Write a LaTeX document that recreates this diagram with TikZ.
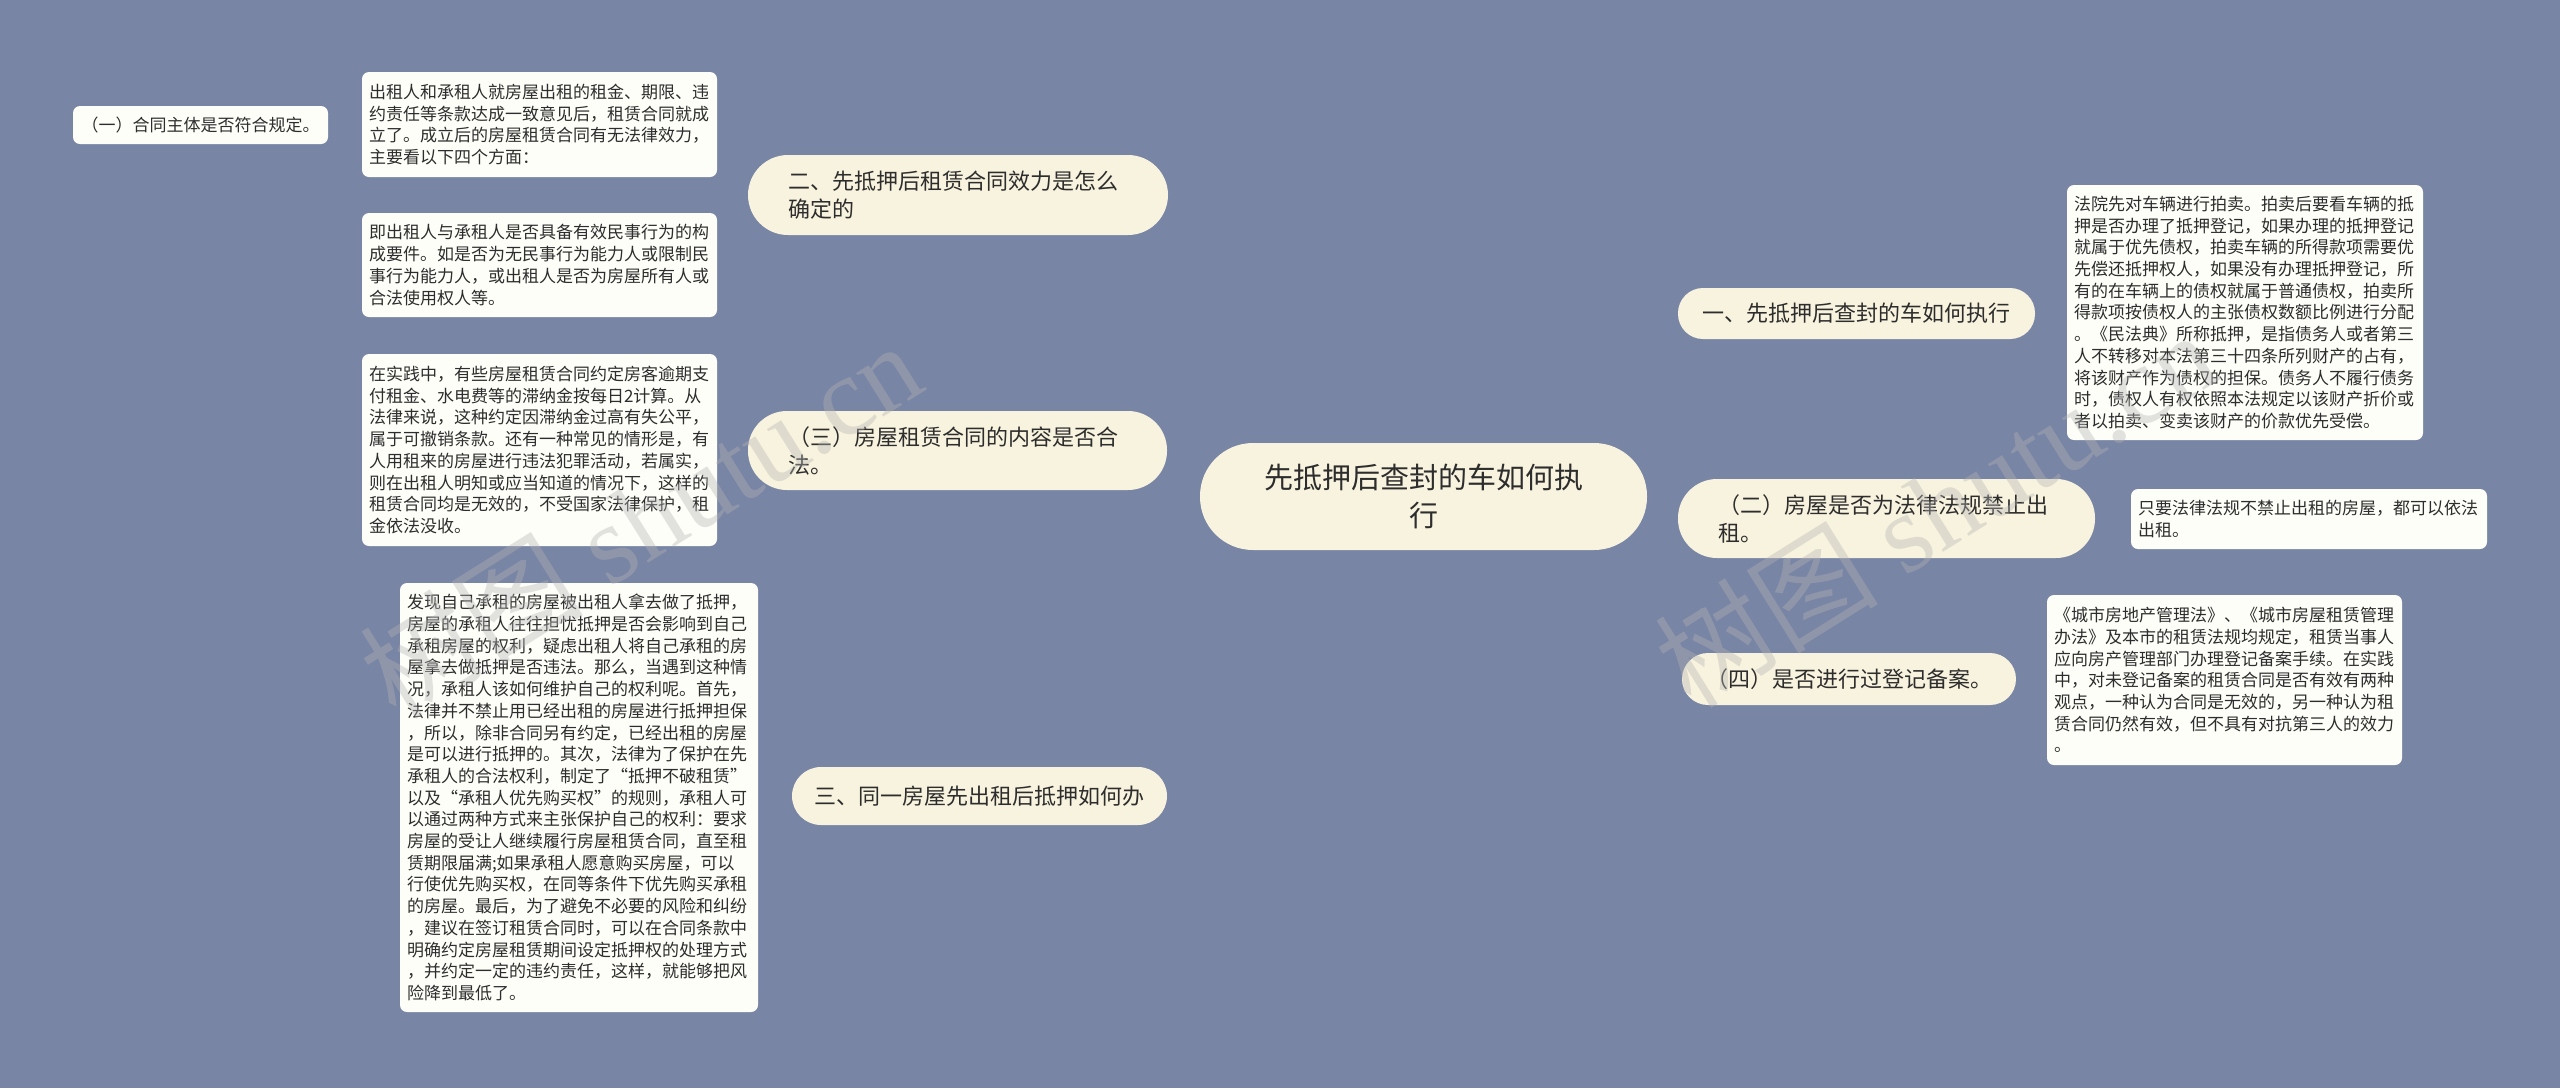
\documentclass[tikz,border=0pt]{standalone}
\usepackage{fontspec}
\newfontfamily\cjk{Noto Sans CJK SC}
\newfontfamily\wmserif{Liberation Serif}
\pgfdeclarelayer{bg}
\pgfsetlayers{bg,main}
\definecolor{bgc}{RGB}{121,133,165}
\definecolor{brfill}{RGB}{248,243,222}
\definecolor{leaffill}{RGB}{254,254,249}
\definecolor{txt}{RGB}{45,45,45}
\definecolor{wmc}{RGB}{180,180,180}
\begin{document}
\begin{tikzpicture}[x=1pt,y=-1pt,
  box/.style={inner ysep=0pt, text=txt, anchor=center},
  leafbox/.style={box, inner xsep=7pt, fill=leaffill, rounded corners=7pt,
    font=\cjk\fontsize{17}{21.7}\selectfont, align=left},
  branchbox/.style={box, fill=brfill, font=\cjk\fontsize{22}{28}\selectfont},
  mainline/.style={draw=white, line width=3pt},
  leafline/.style={draw=white, line width=2pt},
  wm/.style={text=wmc, opacity=0.38, font=\wmserif\fontsize{112}{112}\selectfont, rotate=32, inner sep=0pt}
]
\fill[bgc] (0,0) rectangle (2560,1088);
\useasboundingbox (0,0) rectangle (2560,1088);

% center
\node[box, fill=brfill, rounded corners=53pt, minimum width=447pt, minimum height=107pt,
  font=\cjk\fontsize{29}{38}\selectfont, align=center] (c) at (1423.5,496.5)
  {先抵押后查封的车如何执\\行};

% branches
\node[branchbox, rounded corners=40pt, minimum width=420pt, minimum height=80pt,
  inner xsep=40pt, text width=340pt, align=left] (b2) at (958,195)
  {二、先抵押后租赁合同效力是怎么\\确定的};
\node[branchbox, rounded corners=39pt, minimum width=419pt, minimum height=79pt,
  inner xsep=40pt, text width=339pt, align=left] (b3p) at (957.5,450.5)
  {（三）房屋租赁合同的内容是否合\\法。};
\node[branchbox, rounded corners=29pt, minimum width=375pt, minimum height=58pt,
  inner xsep=0pt, align=center] (b3) at (979.5,796)
  {三、同一房屋先出租后抵押如何办};
\node[branchbox, rounded corners=25pt, minimum width=357pt, minimum height=51pt,
  inner xsep=0pt, align=center] (r1) at (1856.5,313.5)
  {一、先抵押后查封的车如何执行};
\node[branchbox, rounded corners=39pt, minimum width=417pt, minimum height=79pt,
  inner xsep=40pt, text width=337pt, align=left] (r2p) at (1886.5,518.5)
  {（二）房屋是否为法律法规禁止出\\租。};
\node[branchbox, rounded corners=26pt, minimum width=334pt, minimum height=52pt,
  inner xsep=0pt, align=center] (r4p) at (1849,679)
  {（四）是否进行过登记备案。};

% leaves
\node[leafbox, minimum width=255pt, minimum height=38pt, align=center] (l1) at (200.5,125)
  {（一）合同主体是否符合规定。};
\node[leafbox, minimum width=355pt, minimum height=105pt, text width=341pt] (l2) at (539.5,124.5)
  {出租人和承租人就房屋出租的租金、期限、违\\约责任等条款达成一致意见后，租赁合同就成\\立了。成立后的房屋租赁合同有无法律效力，\\主要看以下四个方面：};
\node[leafbox, minimum width=355pt, minimum height=104pt, text width=341pt] (l3) at (539.5,265)
  {即出租人与承租人是否具备有效民事行为的构\\成要件。如是否为无民事行为能力人或限制民\\事行为能力人，或出租人是否为房屋所有人或\\合法使用权人等。};
\node[leafbox, minimum width=355pt, minimum height=192pt, text width=341pt] (l4) at (539.5,450)
  {在实践中，有些房屋租赁合同约定房客逾期支\\付租金、水电费等的滞纳金按每日2计算。从\\法律来说，这种约定因滞纳金过高有失公平，\\属于可撤销条款。还有一种常见的情形是，有\\人用租来的房屋进行违法犯罪活动，若属实，\\则在出租人明知或应当知道的情况下，这样的\\租赁合同均是无效的，不受国家法律保护，租\\金依法没收。};
\node[leafbox, minimum width=358pt, minimum height=429pt, text width=344pt] (l5) at (579,797.5)
  {发现自己承租的房屋被出租人拿去做了抵押，\\房屋的承租人往往担忧抵押是否会影响到自己\\承租房屋的权利，疑虑出租人将自己承租的房\\屋拿去做抵押是否违法。那么，当遇到这种情\\况，承租人该如何维护自己的权利呢。首先，\\法律并不禁止用已经出租的房屋进行抵押担保\\，所以，除非合同另有约定，已经出租的房屋\\是可以进行抵押的。其次，法律为了保护在先\\承租人的合法权利，制定了“抵押不破租赁”\\以及“承租人优先购买权”的规则，承租人可\\以通过两种方式来主张保护自己的权利：要求\\房屋的受让人继续履行房屋租赁合同，直至租\\赁期限届满;如果承租人愿意购买房屋，可以\\行使优先购买权，在同等条件下优先购买承租\\的房屋。最后，为了避免不必要的风险和纠纷\\，建议在签订租赁合同时，可以在合同条款中\\明确约定房屋租赁期间设定抵押权的处理方式\\，并约定一定的违约责任，这样，就能够把风\\险降到最低了。};
\node[leafbox, minimum width=356pt, minimum height=255pt, text width=342pt] (rr1) at (2245,312.5)
  {法院先对车辆进行拍卖。拍卖后要看车辆的抵\\押是否办理了抵押登记，如果办理的抵押登记\\就属于优先债权，拍卖车辆的所得款项需要优\\先偿还抵押权人，如果没有办理抵押登记，所\\有的在车辆上的债权就属于普通债权，拍卖所\\得款项按债权人的主张债权数额比例进行分配\\。《民法典》所称抵押，是指债务人或者第三\\人不转移对本法第三十四条所列财产的占有，\\将该财产作为债权的担保。债务人不履行债务\\时，债权人有权依照本法规定以该财产折价或\\者以拍卖、变卖该财产的价款优先受偿。};
\node[leafbox, minimum width=356pt, minimum height=60pt, text width=342pt] (rr2) at (2309,519)
  {只要法律法规不禁止出租的房屋，都可以依法\\出租。};
\node[leafbox, minimum width=355pt, minimum height=170pt, text width=341pt] (rr4) at (2224.5,680)
  {《城市房地产管理法》、《城市房屋租赁管理\\办法》及本市的租赁法规均规定，租赁当事人\\应向房产管理部门办理登记备案手续。在实践\\中，对未登记备案的租赁合同是否有效有两种\\观点，一种认为合同是无效的，另一种认为租\\赁合同仍然有效，但不具有对抗第三人的效力\\。};

% connectors
\begin{pgfonlayer}{bg}
\draw[mainline] (c.center) .. controls (c.center |- b2.east) .. (b2.east);
\draw[mainline] (c.center) .. controls (c.center |- b3p.east) .. (b3p.east);
\draw[mainline] (c.center) .. controls (c.center |- b3.east) .. (b3.east);
\draw[mainline] (c.center) .. controls (c.center |- r1.west) .. (r1.west);
\draw[mainline] (c.center) .. controls (c.center |- r2p.west) .. (r2p.west);
\draw[mainline] (c.center) .. controls (c.center |- r4p.west) .. (r4p.west);
\draw[leafline] (b2.west) .. controls +(-16,0) and +(15,0) .. (l2.east);
\draw[leafline] (b2.west) .. controls +(-16,0) and +(15,0) .. (l3.east);
\draw[leafline] (l2.west) -- (l1.east);
\draw[leafline] (b3p.west) -- (l4.east);
\draw[leafline] (b3.west) -- (l5.east);
\draw[leafline] (r1.east) -- (rr1.west);
\draw[leafline] (r2p.east) -- (rr2.west);
\draw[leafline] (r4p.east) -- (rr4.west);
\end{pgfonlayer}

% watermarks
\node[wm] (w1) at (640,519) {{\cjk 树图} shutu.cn};
\node[wm] (w2) at (1935,508) {{\cjk 树图} shutu.cn};
\end{tikzpicture}
\end{document}
